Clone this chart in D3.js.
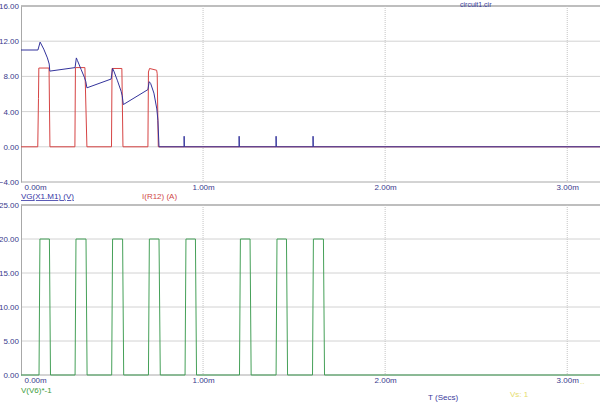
<!DOCTYPE html>
<html><head><meta charset="utf-8">
<script src="https://cdn.jsdelivr.net/npm/d3@7"></script>
<style>
html,body{margin:0;padding:0;background:#fff;}
svg{display:block;font-family:"Liberation Sans",Arial,sans-serif;}
</style></head>
<body><svg id="c" width="600" height="404"></svg>
<script>
// ---- data (time in ms) ----
const xTicks = [0, 1, 2, 3];
const topYTicks = [-4, 0, 4, 8, 12, 16];
const botYTicks = [0, 5, 10, 15, 20, 25];

// VG(X1.M1) (V)
const vgT = [0, 0.093, 0.105, 0.125, 0.145, 0.155, 0.158, 0.297, 0.304, 0.310, 0.330, 0.348, 0.356, 0.362,
  0.495, 0.503, 0.510, 0.530, 0.550, 0.556, 0.562, 0.697, 0.704, 0.712, 0.730, 0.746, 0.752, 0.758,
  0.896, 0.896, 0.897, 1.198, 1.198, 1.199, 1.401, 1.401, 1.402, 1.604, 1.604, 1.605, 3.18];
const vgV = [11.0, 11.0, 11.9, 11.1, 10.1, 9.4, 8.6, 9.0, 10.1, 9.8, 8.8, 7.9, 7.4, 6.7,
  7.7, 8.9, 8.6, 7.5, 6.3, 5.8, 4.8, 6.5, 7.4, 7.2, 6.1, 4.3, 3.0, 0,
  0, 1.2, 0, 0, 1.2, 0, 0, 1.2, 0, 0, 1.2, 0, 0];

// I(R12) (A)
const irT = [0, 0.092, 0.096, 0.098, 0.154, 0.159, 0.296, 0.299, 0.351, 0.362, 0.497, 0.500, 0.554, 0.560,
  0.697, 0.700, 0.706, 0.745, 0.748, 0.754, 3.18];
const irV = [0, 0, 5.5, 8.95, 8.95, 0, 0, 9.0, 9.0, 0, 0, 8.9, 8.9, 0,
  0, 8.5, 8.9, 8.7, 8.3, 0, 0];

// V(V6)*-1
const vvT = [0, 0.099, 0.104, 0.156, 0.162, 0.297, 0.302, 0.357, 0.363, 0.498, 0.503, 0.558, 0.564,
  0.700, 0.705, 0.758, 0.765, 0.901, 0.906, 0.958, 0.964, 1.200, 1.205, 1.258, 1.264,
  1.401, 1.406, 1.458, 1.464, 1.601, 1.606, 1.661, 1.667, 3.18];
const vvV = [0, 0, 20, 20, 0, 0, 20, 20, 0, 0, 20, 20, 0,
  0, 20, 20, 0, 0, 20, 20, 0, 0, 20, 20, 0,
  0, 20, 20, 0, 0, 20, 20, 0, 0];

// ---- drawing ----
const svg = d3.select("#c");
const x = d3.scaleLinear().domain([0, 3.18]).range([21, 600]);
const yT = d3.scaleLinear().domain([-4, 16]).range([182, 6]);
const yB = d3.scaleLinear().domain([0, 25]).range([375, 205]);

const gridCol = "#d2d2d2", axisCol = "#a8a8a8", labCol = "#3a3a8c";

function panel(y, yTicks, dom) {
  const g = svg.append("g");
  g.selectAll("line.h").data(yTicks).join("line")
    .attr("x1", 21).attr("x2", 600).attr("y1", d => y(d)).attr("y2", d => y(d))
    .attr("stroke", (d, i) => (i === yTicks.length - 1 || i === 0) ? axisCol : gridCol)
    .attr("stroke-width", (d, i) => i === yTicks.length - 1 ? 1.5 : 1);
  g.selectAll("line.v").data(xTicks.slice(1)).join("line")
    .attr("x1", d => x(d)).attr("x2", d => x(d)).attr("y1", y(dom[1])).attr("y2", y(dom[0]))
    .attr("stroke", "#c4c4c4").attr("stroke-dasharray", "1,1");
  const ax = g.append("g").attr("transform", "translate(21,0)")
    .call(d3.axisLeft(y).tickValues(yTicks).tickSize(0).tickPadding(2).tickFormat(d3.format(".2f")));
  ax.select(".domain").attr("stroke", axisCol);
  ax.selectAll("text").attr("fill", labCol).attr("font-size", 8).attr("font-family", "Liberation Sans, Arial, sans-serif");
  const xa = g.append("g").attr("transform", `translate(0,${y(dom[0])})`)
    .call(d3.axisBottom(x).tickValues(xTicks).tickSize(0).tickPadding(2).tickFormat(d => d.toFixed(2) + "m"));
  xa.select(".domain").remove();
  xa.selectAll("text").attr("fill", labCol).attr("font-size", 8).attr("font-family", "Liberation Sans, Arial, sans-serif")
    .attr("text-anchor", d => d === 0 ? "start" : "middle")
    .attr("dx", d => d === 0 ? 3 : 0);
  return g;
}
panel(yT, topYTicks, [-4, 16]);
panel(yB, botYTicks, [0, 25]);

function trace(ts, vs, y, col, w) {
  const pts = ts.map((t, i) => [t, vs[i]]);
  svg.append("path").datum(pts)
    .attr("d", d3.line().x(d => x(d[0])).y(d => y(d[1])))
    .attr("fill", "none").attr("stroke", col).attr("stroke-width", w);
}
trace(irT, irV, yT, "#d64444", 1);
trace(vgT, vgV, yT, "#33339c", 1);
trace(vvT, vvV, yB, "#45a058", 1);

function txt(s, xx, yy, col, size, extra) {
  const t = svg.append("text").attr("x", xx).attr("y", yy).attr("fill", col)
    .attr("font-size", size).text(s);
  if (extra) extra(t);
  return t;
}
txt("circuit1.cir", 460, 7, "#3a3a9c", 7);
txt("VG(X1.M1) (V)", 21, 199, "#3434a4", 8, t => t.attr("text-decoration", "underline"));
txt("I(R12) (A)", 142, 199, "#d04848", 8);
txt("V(V6)*-1", 21, 393, "#3c9c3c", 8);
txt("T (Secs)", 428, 400, "#3a3a9c", 8);
txt("Vs: 1", 510, 397, "#e6dc6a", 8);
txt("..", 580, 384, "#e6dc6a", 8);
</script>
</body></html>
